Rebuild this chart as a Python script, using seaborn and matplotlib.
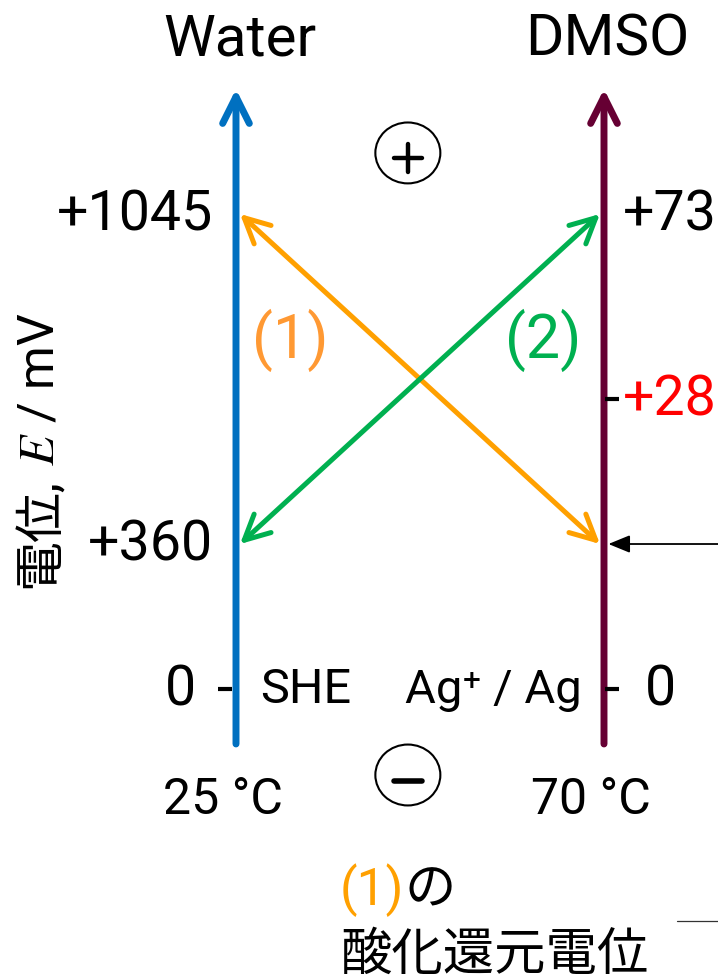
import numpy as np
import pandas as pd
import matplotlib
matplotlib.use('Agg')
import matplotlib.pyplot as plt
import seaborn as sns
from matplotlib.patches import Ellipse

# --- data ---
solvents = ['Water', 'DMSO']
temps = ['25 °C', '70 °C']
refs = ['SHE', 'Ag⁺ / Ag']
axis_colors = ['#0070C0', '#660033']

# labelled potentials (mV) and their schematic heights on each scale
water_labels = ['0', '+360', '+1045']
water_rung = [0, 1.0, 3.276]
dmso_labels = ['0', '+28', '+73']
dmso_rung = [0, 2.0, 3.276]
dmso_label_colors = ['black', 'red', 'black']

# redox couples
pairs = ['(1)', '(2)']
pair_water = [3.276, 1.0]
pair_dmso = [1.0, 3.276]
pair_colors = ['#FFA000', '#00B050']
pair_text_colors = ['#FF9933', '#00B050']

marked_rung = 1.0  # black pointer on DMSO scale

sns.set_theme(style='white')
plt.rcParams['font.family'] = ['Roboto', 'Noto Sans CJK JP', 'DejaVu Sans']
plt.rcParams['mathtext.fontset'] = 'stix'
plt.rcParams['text.color'] = 'black'

fig = plt.figure(figsize=(7.18, 9.79), dpi=100)
ax = fig.add_axes([0, 0, 1, 1])
ax.set_xlim(-0.6413, 1.3098)
ax.set_ylim(-1.993, 4.7586)
ax.axis('off')

xs = [0, 1]

# vertical potential scales
for x, c in zip(xs, axis_colors):
    ax.annotate('', xy=(x, 4.138), xytext=(x, -0.379),
                arrowprops=dict(arrowstyle='->,head_length=1.6,head_width=0.8',
                                color=c, lw=5, shrinkA=0, shrinkB=0,
                                capstyle='round', joinstyle='round'))

# tick marks
ticks = pd.DataFrame({'x': [-0.03, 1.023, 1.023],
                      'y': [water_rung[0], dmso_rung[0], dmso_rung[1]]})
sns.scatterplot(data=ticks, x='x', y='y', marker='_', s=110, linewidth=3,
                color='black', ax=ax, legend=False, zorder=5)

# crossing arrows
for nm, yw, yd, c, tc, lx in zip(pairs, pair_water, pair_dmso, pair_colors,
                                  pair_text_colors, [0.147, 0.834]):
    ax.annotate('', xy=(0.011, yw), xytext=(0.989, yd),
                arrowprops=dict(arrowstyle='<->,head_length=1.5,head_width=0.75',
                                color=c, lw=3.6, shrinkA=0, shrinkB=0))
    ax.text(lx, 2.414, nm, color=tc, fontsize=44, ha='center', va='center')

# black pointer
ax.annotate('', xy=(1.012, marked_rung), xytext=(1.32, marked_rung),
            arrowprops=dict(arrowstyle='-|>,head_length=1.1,head_width=0.45',
                            color='black', lw=1.3, shrinkA=0, shrinkB=0))
ax.plot([1.199, 1.31], [-1.6, -1.6], color='#333333', lw=0.9)

# tick labels
for lab, y in zip(water_labels, water_rung):
    off = -0.11 if lab == '0' else -0.062
    ax.text(off, y, lab, fontsize=40, ha='right', va='center')
for lab, y, c in zip(dmso_labels, dmso_rung, dmso_label_colors):
    off = 1.11 if lab == '0' else 1.05
    ax.text(off, y, lab, fontsize=40, color=c, ha='left', va='center')

# titles, temperatures
for x, s, t in zip(xs, solvents, temps):
    ax.text(x + 0.01, 4.483, s, fontsize=42, ha='center', va='center')
    ax.text(x - 0.035, -0.759, t, fontsize=36, ha='center', va='center')
# reference electrodes
ax.text(0.065, 0, refs[0], fontsize=35, ha='left', va='center')
ax.text(0.94, 0, refs[1], fontsize=34, ha='right', va='center')

# + / - markers (circled signs)
cx = 0.467
for y in [3.697, -0.593]:
    ax.add_patch(Ellipse((cx, y), 0.1766, 0.42, fill=False, lw=1.5,
                         ec='black'))
ax.plot([cx - 0.038, cx + 0.038], [3.66, 3.66], color='black', lw=3.2)
ax.plot([cx, cx], [3.66 - 0.097, 3.66 + 0.097], color='black', lw=3.2)
ax.plot([cx - 0.038, cx + 0.038], [-0.634, -0.634], color='black', lw=4)

# y label
yl = ax.text(-0.533, 1.083, '電位,', fontsize=36, rotation=90,
             ha='center', va='center')
ax.annotate(' $E$ / mV', xy=(0.5, 1), xycoords=yl, fontsize=36, rotation=90,
            ha='center', va='bottom')

# bottom note
t1 = ax.text(0.2826, -1.379, '(1)', color='#FFA000', fontsize=37,
             ha='left', va='center')
ax.annotate('の', xy=(1, 0.5), xycoords=t1, fontsize=37, ha='left',
            va='center')
ax.text(0.2826, -1.83, '酸化還元電位', fontsize=37, ha='left', va='center')

fig.savefig('out.png', dpi=100)
